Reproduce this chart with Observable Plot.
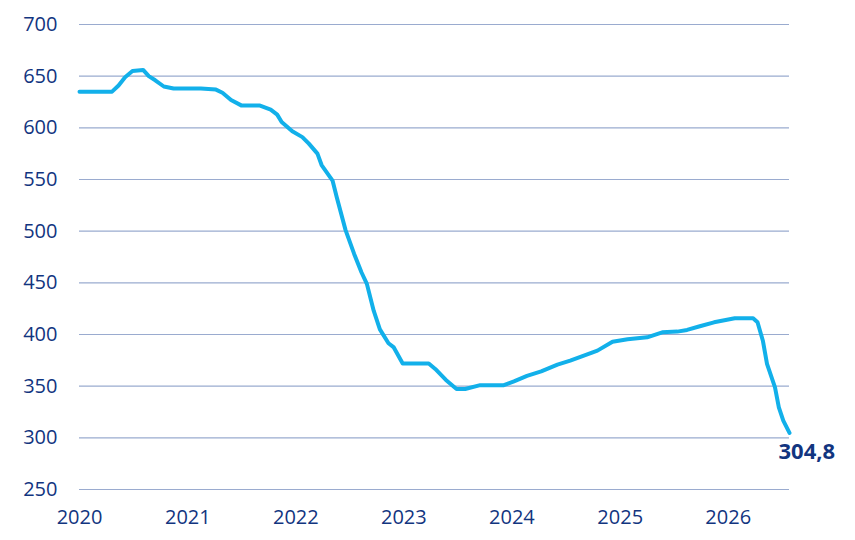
<!DOCTYPE html>
<html>
<head>
<meta charset="utf-8">
<script src="https://cdn.jsdelivr.net/npm/d3@7"></script>
<script src="https://cdn.jsdelivr.net/npm/@observablehq/plot@0.6"></script>
<style>
  html, body { margin: 0; padding: 0; background: #ffffff; }
  #chart svg { display: block; }
</style>
</head>
<body>
<div id="chart"></div>
<script>
const dates = [
  "2020-01-01","2020-04-20","2020-05-12","2020-06-03","2020-06-28","2020-08-03","2020-08-22","2020-09-13",
  "2020-10-12","2020-11-14","2021-02-14","2021-04-06","2021-04-28","2021-05-27","2021-07-02","2021-09-02",
  "2021-10-08","2021-10-30","2021-11-14","2021-12-20","2022-01-23","2022-02-14","2022-03-15","2022-03-29",
  "2022-05-05","2022-05-19","2022-06-18","2022-07-17","2022-08-11","2022-08-29","2022-09-21","2022-10-12",
  "2022-11-10","2022-11-28","2022-12-28","2023-03-26","2023-04-17","2023-05-23","2023-06-28","2023-07-27",
  "2023-09-16","2023-12-05","2024-01-08","2024-02-21","2024-04-09","2024-06-03","2024-07-16","2024-08-22",
  "2024-10-16","2024-12-06","2025-01-26","2025-04-02","2025-05-23","2025-07-13","2025-08-15","2025-09-27",
  "2025-11-14","2026-01-23","2026-03-26","2026-04-10","2026-04-28","2026-05-12","2026-06-08","2026-06-21",
  "2026-07-06","2026-07-27"
];
const values = [
  635, 635, 641, 649, 655, 656, 650, 646,
  640, 638, 638, 637, 634, 627, 621.5, 621.5,
  617.6, 612.8, 605.6, 596.6, 591, 584.7, 575, 564,
  549, 533, 501, 478, 460, 449, 423, 405,
  391.5, 387.5, 372, 372, 366.7, 356, 347.3, 347.3,
  351, 351, 354.7, 360, 364.3, 370.8, 374.7, 378.6,
  384.4, 393, 395.4, 397.3, 402.1, 402.8, 404.4, 408,
  411.8, 415.7, 415.7, 411.8, 394, 371.5, 348.9, 329.5,
  316.6, 304.8
];
const yTicks = [250, 300, 350, 400, 450, 500, 550, 600, 650, 700];
const xTickLabels = ["2020", "2021", "2022", "2023", "2024", "2025", "2026"];
const endLabel = "304,8";

const parse = d3.utcParse("%Y-%m-%d");
const data = dates.map((d, i) => ({date: parse(d), value: values[i]}));
const xTicks = xTickLabels.map(y => parse(y + "-01-01"));
const last = data[data.length - 1];

const navy = "#12357f";
const chart = Plot.plot({
  width: 855,
  height: 540,
  marginLeft: 79,
  marginRight: 66,
  marginTop: 24,
  marginBottom: 51,
  style: {fontFamily: "'Open Sans', sans-serif", fontSize: "20px", color: navy, background: "#ffffff"},
  x: {type: "utc", domain: [data[0].date, last.date]},
  y: {domain: [250, 700]},
  marks: [
    Plot.gridY(yTicks, {stroke: "#9aabcf", strokeOpacity: 1, strokeWidth: 1.2}),
    Plot.axisY(yTicks, {tickSize: 0, tickPadding: 22, label: null, fill: navy, fontSize: 20}),
    Plot.axisX(xTicks, {tickSize: 0, tickPadding: 20, label: null, fill: navy, fontSize: 20,
      tickFormat: (d, i) => xTickLabels[i]}),
    Plot.line(data, {x: "date", y: "value", stroke: "#12b0ea", strokeWidth: 4,
      strokeLinejoin: "round", strokeLinecap: "round"}),
    Plot.text([last], {x: "date", y: "value", text: () => endLabel, dx: -11, dy: 19,
      textAnchor: "start", fill: navy, fontWeight: "bold", fontSize: 22})
  ]
});
document.getElementById("chart").appendChild(chart);
</script>
</body>
</html>
